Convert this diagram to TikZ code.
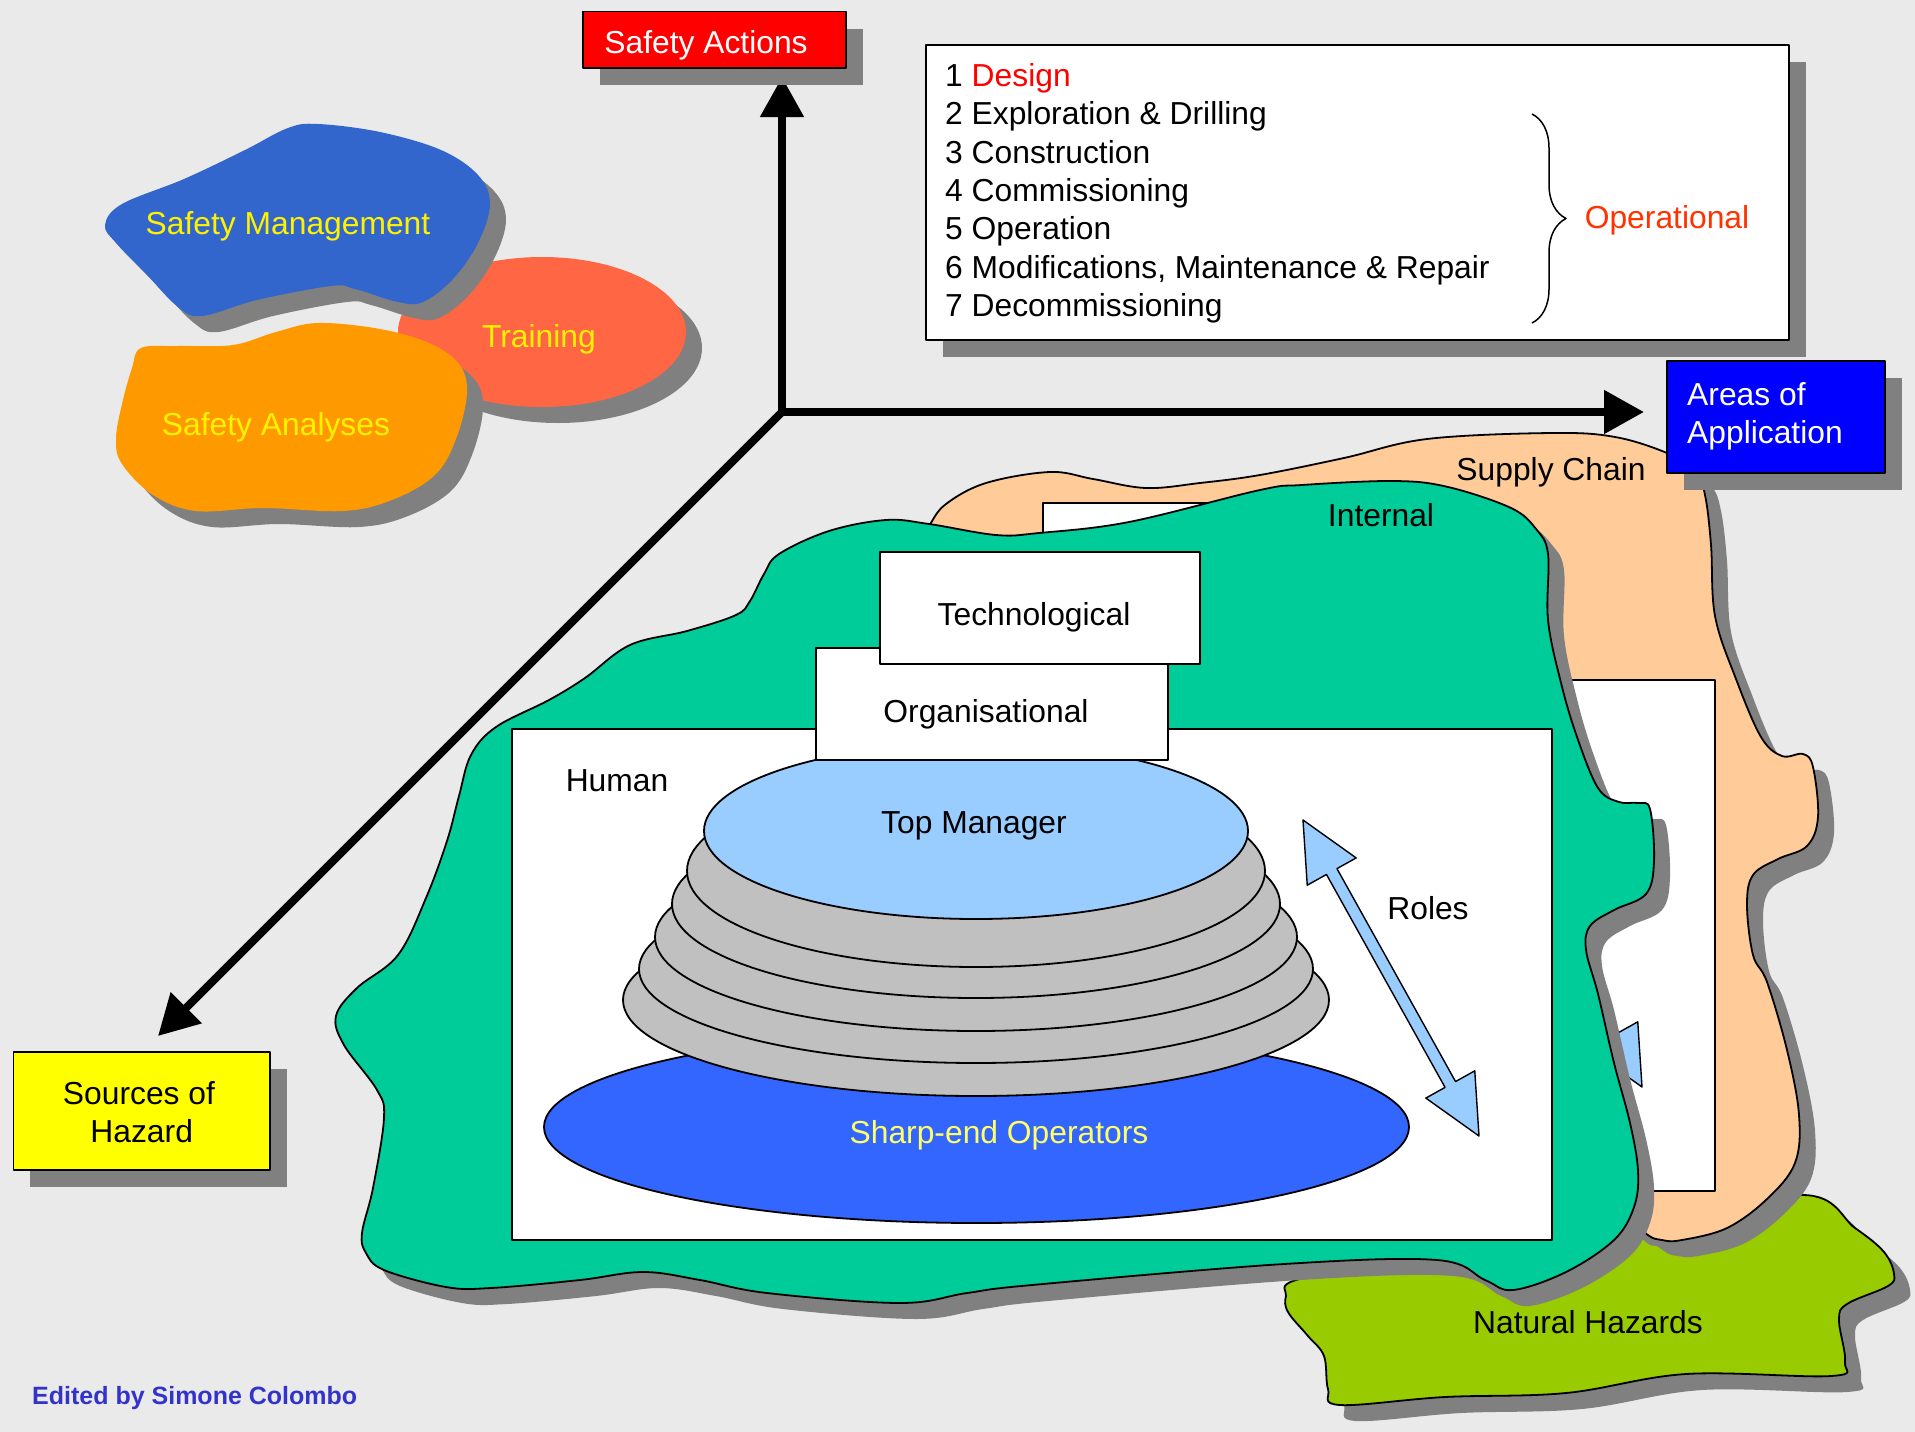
\documentclass[tikz,border=0pt]{standalone}
\usepackage{fontspec}
\setmainfont{Liberation Sans}
\usetikzlibrary{arrows.meta,calc,shadows,decorations.pathreplacing}
\definecolor{bgc}{HTML}{EAEAEA}
\definecolor{shadowc}{HTML}{808080}
\definecolor{smblue}{HTML}{3366CC}
\definecolor{trainc}{HTML}{FF6644}
\definecolor{saorange}{HTML}{FF9900}
\definecolor{peach}{HTML}{FFCC99}
\definecolor{intgreen}{HTML}{00CC99}
\definecolor{natgreen}{HTML}{99CC00}
\definecolor{tmblue}{HTML}{99CCFF}
\definecolor{grayell}{HTML}{C0C0C0}
\definecolor{sharpblue}{HTML}{3366FF}
\definecolor{sharptxt}{HTML}{FFFF66}
\definecolor{edc}{HTML}{3333CC}
\definecolor{opc}{HTML}{FF3300}
\definecolor{areasblue}{HTML}{0000FF}
\definecolor{srcyellow}{HTML}{FFFF00}
\begin{document}
\begin{tikzpicture}[x=1pt,y=-1pt,line join=round,
  txt/.style={inner sep=0pt,font=\fontsize{31.8}{38}\selectfont},
  outl/.style={draw=black,line width=1.8pt},
  rectbox/.style={draw=black,line width=1.8pt,fill=white,inner sep=0pt,outer sep=0pt},
  bigshadow/.style={drop shadow={shadow xshift=17pt,shadow yshift=-17pt,opacity=1,fill=shadowc}},
  axis/.style={line width=8pt,draw=black},
  tri/.tip={Triangle[length=40pt,width=42pt]},
  blobSM/.style={insert path={plot[smooth cycle,tension=0.6] coordinates {(105,225) (122,204) (184,179) (245,150) (288,128) (318,124) (380,132) (441,150) (478,175) (490,204) (478,243) (453,279) (423,302) (398,302) (355,289) (331,286) (257,300) (202,316) (178,307) (147,275) (116,243)}}},
  blobSA/.style={insert path={plot[smooth cycle,tension=0.6] coordinates {(141,348) (178,346) (233,345) (276,332) (318,323) (380,329) (429,343) (459,364) (467,393) (456,439) (435,475) (392,500) (343,511) (263,508) (196,511) (153,495) (122,464) (116,439) (122,404) (132,368)}}},
  blobNH/.style={insert path={plot[smooth cycle,tension=0.6] coordinates {(1296,1280) (1400,1262) (1500,1250) (1650,1225) (1803,1195) (1855,1228) (1884,1252) (1894,1274) (1888,1286) (1847,1304) (1839,1320) (1845,1362) (1831,1376) (1686,1374) (1566,1393) (1445,1397) (1340,1405) (1328,1389) (1324,1356) (1308,1336) (1288,1312) (1286,1296)}}},
  blobPC/.style={insert path={plot[smooth cycle,tension=0.6] coordinates {(929,526) (946,504) (986,483) (1050,472) (1093,479) (1146,488) (1200,483) (1260,475) (1344,458) (1427,439) (1552,433) (1615,437) (1667,453) (1695,470) (1705,495) (1711,545) (1715,616) (1736,679) (1761,737) (1782,756) (1803,754) (1813,767) (1818,817) (1807,846) (1778,859) (1753,875) (1747,905) (1753,955) (1767,982) (1787,1050) (1799,1115) (1795,1163) (1767,1199) (1727,1228) (1682,1240) (1662,1240) (1644,1232) (1600,1190) (1400,900) (1000,620) (915,550)}}},
  blobIN/.style={insert path={plot[smooth cycle,tension=0.6] coordinates {(687,631) (736,615) (750,601) (764,574) (779,554) (829,531) (886,520) (929,524) (996,535) (1039,533) (1129,522) (1260,490) (1302,485) (1394,481) (1448,487) (1511,508) (1536,529) (1548,554) (1548,620) (1561,683) (1577,737) (1598,788) (1619,802) (1638,803) (1650,809) (1654,861) (1646,894) (1614,910) (1590,926) (1586,950) (1598,994) (1614,1063) (1630,1123) (1638,1171) (1634,1207) (1614,1240) (1566,1272) (1513,1290) (1485,1280) (1437,1260) (1284,1264) (1032,1285) (967,1293) (900,1303) (767,1293) (700,1280) (643,1272) (580,1280) (491,1288) (446,1287) (384,1270) (366,1253) (362,1233) (373,1188) (384,1118) (377,1090) (344,1045) (336,1016) (357,988) (398,955) (426,898) (447,841) (459,796) (471,755) (496,727) (549,700) (585,678) (630,645)}}}
]
% background and bounding box
\fill[bgc] (0,0) rectangle (1915,1432);
\useasboundingbox (0,0) rectangle (1915,1432);

% Training
\fill[shadowc] (558,348) ellipse [x radius=144pt,y radius=75pt];
\filldraw[fill=trainc,draw=none] (542,332) ellipse [x radius=144pt,y radius=75pt];
% Safety Management
\fill[shadowc,shift={(16,16)},blobSM];
\fill[smblue,blobSM];
% Safety Analyses
\fill[shadowc,shift={(16,16)},blobSA];
\fill[saorange,blobSA];

% Natural hazards
\fill[shadowc,shift={(16,16)},blobNH];
\filldraw[fill=natgreen,outl,blobNH];
% Supply chain
\fill[shadowc,shift={(16,16)},blobPC];
\filldraw[fill=peach,outl,blobPC];
% copies inside supply chain layer
\node[rectbox,minimum width=1040pt,minimum height=511pt] (humanCopy) at (1195,935.5) {};
\node[rectbox,minimum width=352pt,minimum height=112pt] (orgCopy) at (1155,655) {};
\node[rectbox,minimum width=320pt,minimum height=112pt] (techCopy) at (1203,559) {};
\coordinate (cA) at (1466,771);
\coordinate (cB) at (1642,1087);
\path ($(cA)!59pt!(cB)$) coordinate (cA0) ($(cB)!59pt!(cA)$) coordinate (cB0);
\filldraw[fill=tmblue,draw=black,line width=1.4pt] ($(cA0)!6pt!90:(cB)$) -- ($(cA0)!28pt!90:(cB)$) -- (cA) -- ($(cA0)!28pt!-90:(cB)$) -- ($(cA0)!6pt!-90:(cB)$) -- ($(cB0)!6pt!90:(cA)$) -- ($(cB0)!28pt!90:(cA)$) -- (cB) -- ($(cB0)!28pt!-90:(cA)$) -- ($(cB0)!6pt!-90:(cA)$) -- cycle;

% Internal
\fill[shadowc,shift={(16,16)},blobIN];
\filldraw[fill=intgreen,outl,blobIN];

% Human layer
\node[rectbox,minimum width=1040pt,minimum height=511pt] (humanBox) at (1032,984.5) {};
\filldraw[fill=sharpblue,outl] (976.5,1127) ellipse [x radius=432.5pt,y radius=96pt];
\filldraw[fill=grayell,outl] (976,1000) ellipse [x radius=353pt,y radius=96pt];
\filldraw[fill=grayell,outl] (976,969) ellipse [x radius=337pt,y radius=94pt];
\filldraw[fill=grayell,outl] (976,937) ellipse [x radius=321pt,y radius=94pt];
\filldraw[fill=grayell,outl] (976,904) ellipse [x radius=304pt,y radius=94pt];
\filldraw[fill=grayell,outl] (976,871) ellipse [x radius=289pt,y radius=96pt];
\filldraw[fill=tmblue,outl] (976,831) ellipse [x radius=272pt,y radius=88pt];
\node[rectbox,minimum width=352pt,minimum height=112pt] (orgBox) at (992,704) {};
\node[rectbox,minimum width=320pt,minimum height=112pt] (techBox) at (1040,608) {};
% Roles arrow
\coordinate (rA) at (1303,820);
\coordinate (rB) at (1479,1136);
\path ($(rA)!59pt!(rB)$) coordinate (rA0) ($(rB)!59pt!(rA)$) coordinate (rB0);
\filldraw[fill=tmblue,draw=black,line width=1.4pt] ($(rA0)!6pt!90:(rB)$) -- ($(rA0)!28pt!90:(rB)$) -- (rA) -- ($(rA0)!28pt!-90:(rB)$) -- ($(rA0)!6pt!-90:(rB)$) -- ($(rB0)!6pt!90:(rA)$) -- ($(rB0)!28pt!90:(rA)$) -- (rB) -- ($(rB0)!28pt!-90:(rA)$) -- ($(rB0)!6pt!-90:(rA)$) -- cycle;

% Axes
\coordinate (o) at (782,412);
\coordinate (tipU) at (782,77);
\coordinate (tipR) at (1644,412);
\coordinate (tipD) at (158,1036);
\draw[axis,line join=miter,{tri}-{tri}] (tipU) -- (o) -- (tipR);
\draw[axis,line cap=round,-{tri}] (o) -- (tipD);

% Boxes
\node[rectbox,fill=red,minimum width=263pt,minimum height=56.5pt,bigshadow] (saBox) at (714.5,39.75) {};
\node[rectbox,minimum width=863pt,minimum height=295pt,bigshadow] (listBox) at (1357.5,192.5) {};
\node[rectbox,fill=areasblue,minimum width=218pt,minimum height=112pt,bigshadow] (areasBox) at (1776,417) {};
\node[rectbox,fill=srcyellow,minimum width=256.6pt,minimum height=118pt,bigshadow] (srcBox) at (141.7,1111) {};

% Brace
\draw[line width=1.5pt,decorate,decoration={brace,amplitude=34pt}] (1532,114) -- (1532,323);

% Texts
\node[txt,anchor=base,text=white] (saT) at (706,53.6) {Safety Actions};
\node[txt,anchor=base,text=yellow] (smT) at (288,234) {Safety Management};
\node[txt,anchor=base,text=yellow] (trT) at (539,347) {Training};
\node[txt,anchor=base,text=yellow] (saaT) at (276,435) {Safety Analyses};
\node[txt,anchor=base west] (l1) at (945,86.5) {1 \textcolor{red}{Design}};
\node[txt,anchor=base west] (l2) at (945,124.8) {2 Exploration \& Drilling};
\node[txt,anchor=base west] (l3) at (945,163.1) {3 Construction};
\node[txt,anchor=base west] (l4) at (945,201.4) {4 Commissioning};
\node[txt,anchor=base west] (l5) at (945,239.7) {5 Operation};
\node[txt,anchor=base west] (l6) at (945,278.0) {6 Modifications, Maintenance \& Repair};
\node[txt,anchor=base west] (l7) at (945,316.3) {7 Decommissioning};
\node[txt,anchor=base,text=opc] (opT) at (1667,228) {Operational};
\node[txt,anchor=base west,text=white] (arT1) at (1687,405) {Areas of};
\node[txt,anchor=base west,text=white] (arT2) at (1687,443) {Application};
\node[txt,anchor=base] (srT1) at (139,1104) {Sources of};
\node[txt,anchor=base] (srT2) at (141.7,1142.5) {Hazard};
\node[txt,anchor=base west,font=\fontsize{25}{30}\selectfont\bfseries,text=edc] (edT) at (32,1404) {Edited by Simone Colombo};
\node[txt,anchor=base] (scT) at (1551,480) {Supply Chain};
\node[txt,anchor=base] (inT) at (1381,526.5) {Internal};
\node[txt,anchor=base] (teT) at (1034,625) {Technological};
\node[txt,anchor=base] (orT) at (986,722) {Organisational};
\node[txt,anchor=base] (huT) at (617,791.8) {Human};
\node[txt,anchor=base] (tmT) at (974,833) {Top Manager};
\node[txt,anchor=base,text=sharptxt] (shT) at (999,1143) {Sharp-end Operators};
\node[txt,anchor=base] (roT) at (1428,919.7) {Roles};
\node[txt,anchor=base] (nhT) at (1588,1333) {Natural Hazards};
\end{tikzpicture}
\end{document}
